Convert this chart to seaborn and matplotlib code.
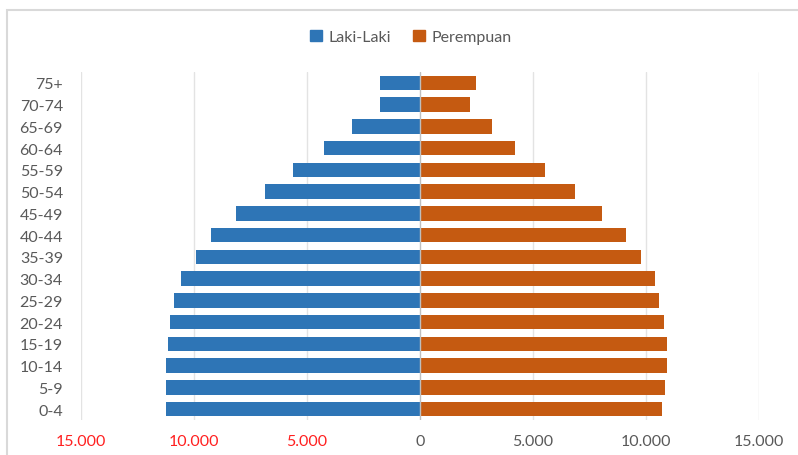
import pandas as pd
import matplotlib.pyplot as plt
import matplotlib.patches as mpatches
from matplotlib.ticker import FuncFormatter
import seaborn as sns

# age groups, top to bottom as in the chart
age_groups = ['75+', '70-74', '65-69', '60-64', '55-59', '50-54', '45-49', '40-44',
              '35-39', '30-34', '25-29', '20-24', '15-19', '10-14', '5-9', '0-4']
laki_laki = [1790, 1790, 3010, 4230, 5620, 6880, 8140, 9250,
             9910, 10560, 10870, 11040, 11130, 11220, 11250, 11220]
perempuan = [2490, 2220, 3180, 4220, 5540, 6880, 8060, 9100,
             9770, 10380, 10590, 10810, 10940, 10940, 10850, 10720]
x_ticks = [-15000, -10000, -5000, 0, 5000, 10000, 15000]

BLUE = '#2E75B6'
ORANGE = '#C55A11'
GREY = '#595959'

sns.set_theme(style='white')
plt.rcParams['font.family'] = ['Lato', 'DejaVu Sans']

df = pd.DataFrame({
    'umur': age_groups * 2,
    'jumlah': [-v for v in laki_laki] + perempuan,
    'jenis': ['Laki-Laki'] * len(age_groups) + ['Perempuan'] * len(age_groups),
})

fig = plt.figure(figsize=(7.98, 4.56), dpi=100)
ax = fig.add_axes([81 / 798, 1 - 421 / 456, (759 - 81) / 798, (421 - 73) / 456])

# grid first so bars sit on top; the zero line goes over the bars
for t in x_ticks:
    if t == 0:
        ax.axvline(t, color='#BFBFBF', lw=1.0, zorder=3)
    else:
        ax.axvline(t, color='#E3E3E3', lw=1.0, zorder=0)

sns.barplot(data=df, y='umur', x='jumlah', hue='jenis', order=age_groups,
            palette={'Laki-Laki': BLUE, 'Perempuan': ORANGE},
            dodge=False, width=0.66, orient='h', ax=ax, legend=False,
            saturation=1, linewidth=0, zorder=2)

ax.set_xlim(-15000, 15000)
ax.set_xticks(x_ticks)
ax.xaxis.set_major_formatter(FuncFormatter(lambda v, p: f"{abs(v):,.0f}".replace(',', '.')))
ax.set_xlabel('')
ax.set_ylabel('')
for s in ax.spines.values():
    s.set_visible(False)
ax.tick_params(axis='y', length=0, pad=13, labelsize=11.5, labelcolor=GREY)
ax.tick_params(axis='x', length=0, pad=10, labelsize=11.5, labelcolor=GREY)
for lbl, t in zip(ax.get_xticklabels(), x_ticks):
    if t < 0:
        lbl.set_color('#FF2020')

handles = [mpatches.Patch(color=BLUE, label='Laki-Laki'),
           mpatches.Patch(color=ORANGE, label='Perempuan')]
fig.legend(handles=handles, loc='center', bbox_to_anchor=(0.515, 0.917), ncol=2,
           frameon=False, fontsize=11.5, labelcolor=GREY, handlelength=0.75,
           handleheight=0.75, handletextpad=0.4, columnspacing=1.4)

# light border of the chart area (cropped on the right and bottom)
fig.patches.append(mpatches.Rectangle((7 / 798, -0.2), 1.2, 1.2 - 11 / 456,
                                      transform=fig.transFigure, fill=False,
                                      edgecolor='#D9D9D9', lw=1.5))

fig.savefig('out.png', dpi=100)
